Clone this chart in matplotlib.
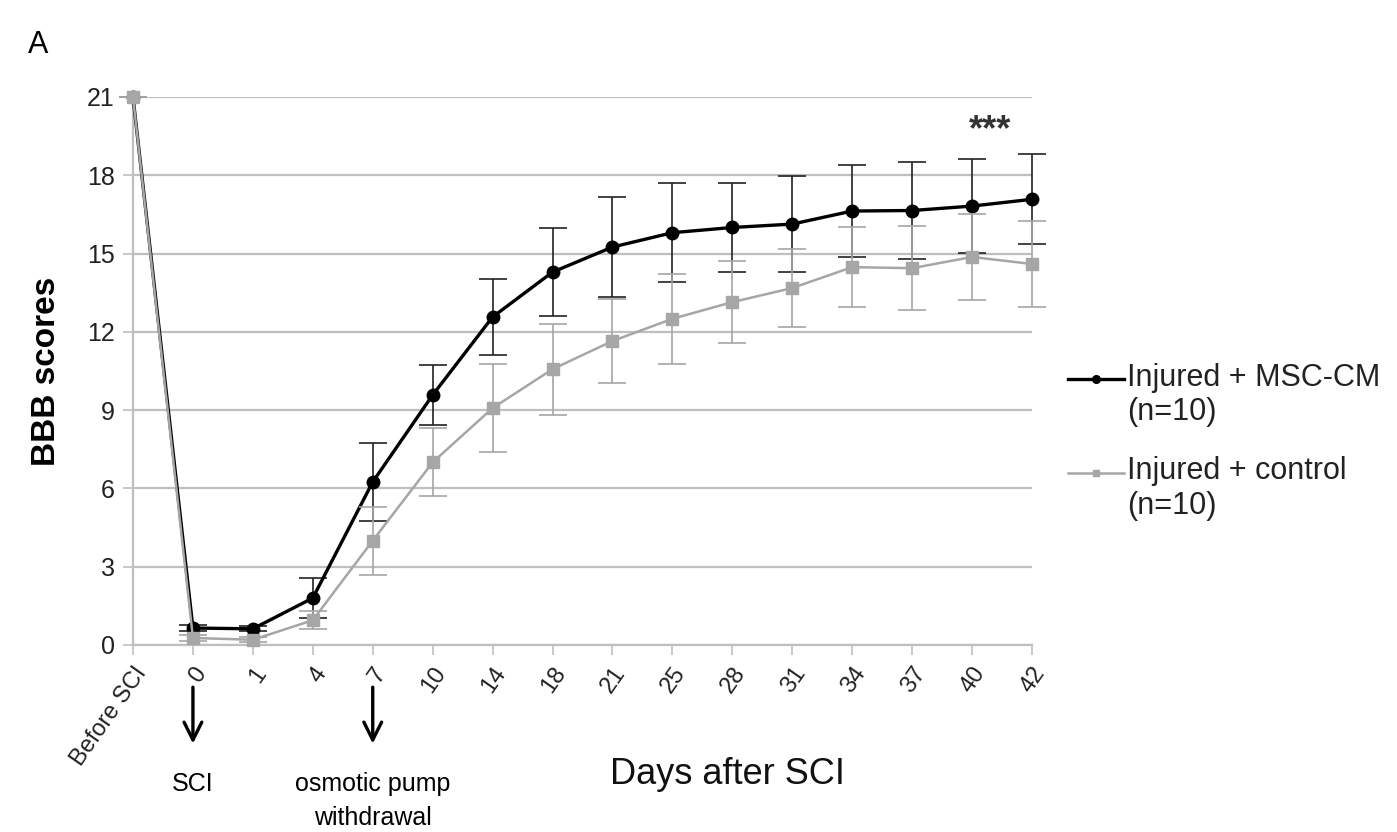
import matplotlib
matplotlib.use("Agg")
import matplotlib.pyplot as plt
from matplotlib.legend_handler import HandlerLine2D
from matplotlib.lines import Line2D
import numpy as np

plt.rcParams['font.family'] = ['Liberation Sans', 'DejaVu Sans']

categories = ["Before SCI", "0", "1", "4", "7", "10", "14", "18", "21", "25",
              "28", "31", "34", "37", "40", "42"]
msc = [21, 0.65, 0.62, 1.8, 6.25, 9.58, 12.57, 14.29, 15.25, 15.8, 16.0,
       16.13, 16.63, 16.65, 16.82, 17.08]
msc_err = [0, 0.1, 0.1, 0.75, 1.5, 1.15, 1.45, 1.7, 1.9, 1.9, 1.72, 1.84,
           1.76, 1.84, 1.8, 1.72]
ctrl = [21, 0.27, 0.2, 0.95, 4.0, 7.0, 9.08, 10.57, 11.65, 12.5, 13.14,
        13.68, 14.48, 14.44, 14.87, 14.6]
ctrl_err = [0, 0.1, 0.1, 0.35, 1.3, 1.3, 1.7, 1.75, 1.6, 1.73, 1.57, 1.5,
            1.53, 1.6, 1.65, 1.65]
yticks = [0, 3, 6, 9, 12, 15, 18, 21]
label_msc = "Injured + MSC-CM\n(n=10)"
label_ctrl = "Injured + control\n(n=10)"
events = [(1, "SCI"), (4, "osmotic pump\nwithdrawal")]


class HandlerTopLine(HandlerLine2D):
    """Place the legend line next to the first text line."""
    def __init__(self, shift, **kw):
        super().__init__(**kw)
        self.shift = shift

    def create_artists(self, legend, orig_handle, xdescent, ydescent, width,
                       height, fontsize, trans):
        arts = super().create_artists(legend, orig_handle, xdescent, ydescent,
                                      width, height, fontsize, trans)
        for a in arts:
            a.set_ydata(np.asarray(a.get_ydata()) + self.shift)
        return arts


W, H = 1397, 832
fig = plt.figure(figsize=(W / 100, H / 100), dpi=100)
ax = fig.add_axes([133 / W, 1 - 645 / H, (1032 - 133) / W, (645 - 97) / H])

x = np.arange(len(categories))
grid_c = '#bfbfbf'
gray = '#a6a6a6'

for yv in yticks:
    ax.axhline(yv, color=grid_c, lw=1.6, zorder=0)

ax.errorbar(x, msc, yerr=msc_err, color='black', lw=2.4, marker='o',
            markersize=9, ecolor='#222222', elinewidth=1.2, capsize=10,
            capthick=1.2, zorder=3, clip_on=False)
ax.errorbar(x, ctrl, yerr=ctrl_err, color=gray, lw=1.8, marker='s',
            markersize=8, ecolor=gray, elinewidth=1.2, capsize=10,
            capthick=1.2, zorder=4, clip_on=False)

ax.set_xlim(0, len(categories) - 1)
ax.set_ylim(0, 21)
ax.set_yticks(yticks)
ax.set_yticklabels([str(v) for v in yticks], fontsize=18, color='#222222')
ax.set_xticks(x)
ax.set_xticklabels(categories, fontsize=17, rotation=55, ha='right',
                   rotation_mode='anchor', color='#222222')
for s in ['top', 'right']:
    ax.spines[s].set_visible(False)
for s in ['left', 'bottom']:
    ax.spines[s].set_color(grid_c)
    ax.spines[s].set_linewidth(1.6)
ax.tick_params(axis='both', color=grid_c, length=7, width=1.2, pad=6)

ax.set_ylabel("BBB scores", fontsize=24, fontweight='bold')
ax.yaxis.set_label_coords(-0.079, 0.5)

fig.text(727 / W, 1 - 775 / H, "Days after SCI", fontsize=26, ha='center',
         va='center', color='#111111')
fig.text(28 / W, 1 - 45 / H, "A", fontsize=22, ha='left', va='center')
ax.text(14.3, 19.7, "***", fontsize=26, ha='center', va='center',
        color='#333333', fontweight='bold')

# annotation arrows and texts below the x axis
mix = ('data', 'axes fraction')
for xi, txt in events:
    ax.annotate("", xy=(xi, -0.18), xycoords=mix,
                xytext=(xi, -0.077), textcoords=mix,
                arrowprops=dict(arrowstyle='->', lw=2.4, color='black',
                                mutation_scale=32, shrinkA=0, shrinkB=0),
                annotation_clip=False)
    ax.annotate(txt, xy=(xi, -0.232), xycoords=mix, ha='center', va='top',
                fontsize=18, linespacing=1.5, annotation_clip=False)

h_msc = Line2D([], [], color='black', lw=2.4, marker='o', markersize=5.5)
h_ctrl = Line2D([], [], color=gray, lw=1.8, marker='s', markersize=5)
leg = fig.legend([h_msc, h_ctrl], [label_msc, label_ctrl], loc='upper left',
                 bbox_to_anchor=(1040 / W, 1 - 335 / H), frameon=False,
                 fontsize=22, handlelength=1.85, handletextpad=0.1,
                 labelspacing=0.95,
                 handler_map={h_msc: HandlerTopLine(12),
                              h_ctrl: HandlerTopLine(12)})
for t in leg.get_texts():
    t.set_color('#222222')

fig.savefig("out.png", dpi=100)
